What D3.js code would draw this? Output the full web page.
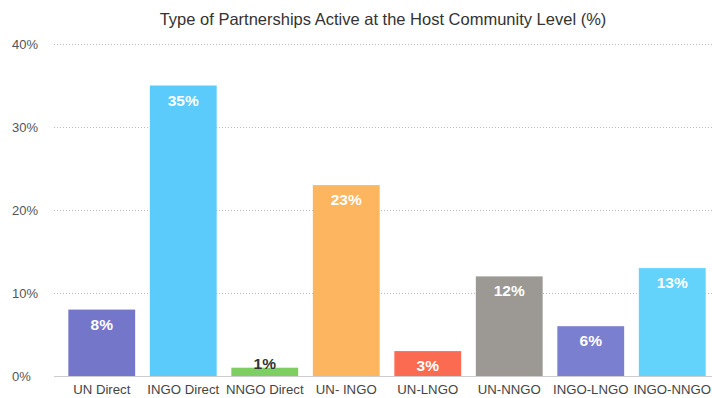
<!DOCTYPE html>
<html lang="en">
<head>
    <meta charset="UTF-8">
    <title>Type of Partnerships</title>
    <script src="https://d3js.org/d3.v7.min.js"></script>
    <style>
        body { margin: 0; background: #fff; font-family: "Liberation Sans", Arial, sans-serif; }
    </style>
</head>
<body>
    <div id="chart"></div>
    <script>
        // Chart data
        const categories = ['UN Direct', 'INGO Direct', 'NNGO Direct', 'UN- INGO', 'UN-LNGO', 'UN-NNGO', 'INGO-LNGO', 'INGO-NNGO'];
        const values = [8, 35, 1, 23, 3, 12, 6, 13];
        const barColors = ['#7477c9', '#5acbfb', '#7fce62', '#fdb55f', '#fb6b52', '#9c9994', '#7a7fcf', '#63d3fc'];
        const yTicks = [0, 10, 20, 30, 40];

        const width = 712;
        const height = 398;

        const svg = d3.select('#chart')
            .append('svg')
            .attr('width', width)
            .attr('height', height);

        // Scales
        const xScale = d3.scaleBand()
            .domain(categories)
            .range([61, 713])
            .paddingInner(0.18)
            .paddingOuter(0.09);

        const yScale = d3.scaleLinear()
            .domain([0, 40])
            .range([376, 44]);

        // Title
        svg.append('text')
            .attr('x', 383)
            .attr('y', 25)
            .attr('text-anchor', 'middle')
            .style('font-size', '16.5px')
            .style('fill', '#333')
            .text('Type of Partnerships Active at the Host Community Level (%)');

        // Gridlines
        svg.append('g')
            .selectAll('line')
            .data(yTicks.filter(d => d > 0))
            .enter()
            .append('line')
            .attr('x1', 54)
            .attr('x2', 712)
            .attr('y1', d => yScale(d) + 0.5)
            .attr('y2', d => yScale(d) + 0.5)
            .attr('stroke', '#bbb')
            .attr('stroke-width', 1)
            .attr('stroke-dasharray', '1,2');

        // Y-axis labels
        svg.append('g')
            .selectAll('text')
            .data(yTicks)
            .enter()
            .append('text')
            .attr('x', 12)
            .attr('y', d => yScale(d) + 5)
            .style('font-size', '13px')
            .style('fill', '#555')
            .text(d => d + '%');

        // Bars
        svg.append('g')
            .selectAll('rect')
            .data(values)
            .enter()
            .append('rect')
            .attr('x', (d, i) => xScale(categories[i]))
            .attr('y', d => yScale(d))
            .attr('width', xScale.bandwidth())
            .attr('height', d => yScale(0) - yScale(d))
            .attr('fill', (d, i) => barColors[i]);

        // Baseline
        svg.append('line')
            .attr('x1', 54)
            .attr('x2', 712)
            .attr('y1', yScale(0) + 0.5)
            .attr('y2', yScale(0) + 0.5)
            .attr('stroke', '#ccc');

        // Value labels
        svg.append('g')
            .selectAll('text')
            .data(values)
            .enter()
            .append('text')
            .attr('x', (d, i) => xScale(categories[i]) + xScale.bandwidth() / 2)
            .attr('y', d => d < 2 ? yScale(d) + 1 : yScale(d) + 20)
            .attr('text-anchor', 'middle')
            .style('font-size', '15.5px')
            .style('font-weight', 'bold')
            .style('fill', d => d < 2 ? '#333' : '#fff')
            .text(d => d + '%');

        // X-axis labels
        svg.append('g')
            .selectAll('text')
            .data(categories)
            .enter()
            .append('text')
            .attr('x', d => xScale(d) + xScale.bandwidth() / 2)
            .attr('y', 394)
            .attr('text-anchor', 'middle')
            .style('font-size', '13.2px')
            .style('fill', '#444')
            .text(d => d);
    </script>
</body>
</html>
